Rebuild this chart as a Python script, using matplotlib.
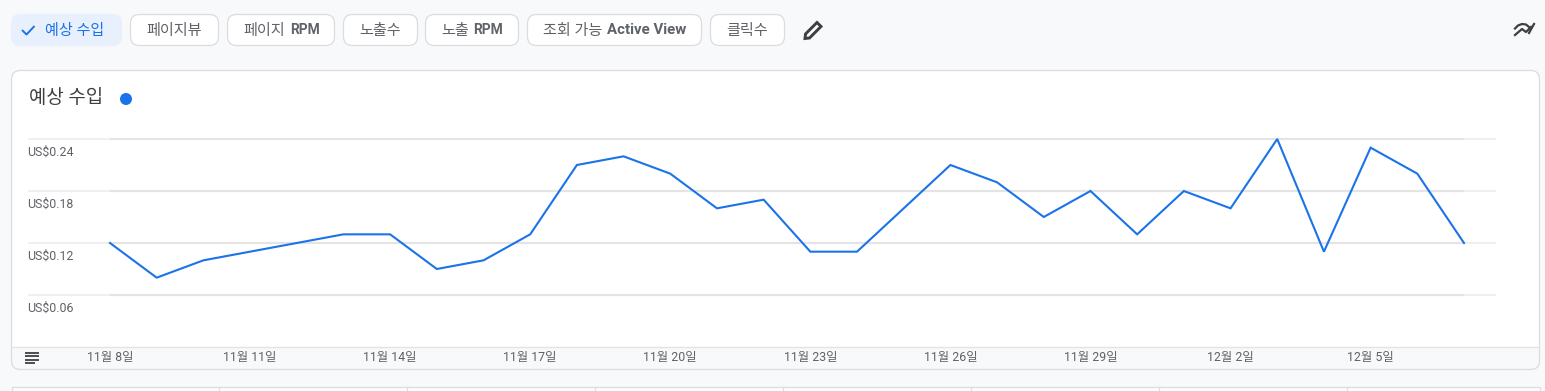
import matplotlib
matplotlib.use("Agg")
import matplotlib.pyplot as plt
import matplotlib.patches as patches

plt.rcParams['font.family'] = ['Roboto', 'Noto Sans CJK KR', 'DejaVu Sans']

# data
revenue = [0.12, 0.08, 0.10, 0.11, 0.12, 0.13, 0.13, 0.09, 0.10, 0.13,
           0.21, 0.22, 0.20, 0.16, 0.17, 0.11, 0.11, 0.16, 0.21, 0.19,
           0.15, 0.18, 0.13, 0.18, 0.16, 0.24, 0.11, 0.23, 0.20, 0.12]
date_ticks = [0, 3, 6, 9, 12, 15, 18, 21, 24, 27]
date_labels = ['11월 8일', '11월 11일', '11월 14일', '11월 17일', '11월 20일',
               '11월 23일', '11월 26일', '11월 29일', '12월 2일', '12월 5일']
y_ticks = [0.24, 0.18, 0.12, 0.06]
y_labels = ['US$0.24', 'US$0.18', 'US$0.12', 'US$0.06']
chip_names = [['예상 수입'], ['페이지뷰'], ['페이지', 'RPM'], ['노출수'], ['노출', 'RPM'],
              ['조회 가능', 'Active View'], ['클릭수']]

W, H = 1545, 391
BG = '#f8f9fa'
BORDER = '#dadce0'
BLUE = '#1a73e8'
GREY = '#5f6368'

fig = plt.figure(figsize=(W / 100, H / 100), dpi=100, facecolor=BG)

# page furniture is drawn in pixel coordinates
ui = fig.add_axes([0, 0, 1, 1])
ui.set_xlim(0, W)
ui.set_ylim(H, 0)
ui.axis('off')

# chips
chip_edges = [(11, 122), (130, 219), (227, 335), (343, 418), (425, 519), (527, 702), (710, 785)]
chip_text_x = [(45, None), (146, None), (243, 290), (359, None), (441, 473), (543, 607), (726, None)]
for i, (x0, x1) in enumerate(chip_edges):
    active = i == 0
    ui.add_patch(patches.FancyBboxPatch((x0 + 0.5, 14.5), x1 - x0 - 1, 31,
                                        boxstyle="round,pad=0,rounding_size=9",
                                        facecolor='#e8f0fe' if active else 'white',
                                        edgecolor='#e8f0fe' if active else BORDER, linewidth=0.9))
    col = BLUE if active else GREY
    ui.text(chip_text_x[i][0], 30.5, chip_names[i][0], ha='left', va='center', fontsize=10.9, color=col)
    if len(chip_names[i]) > 1:
        size = 10.8 if chip_names[i][1] == 'Active View' else 10
        ui.text(chip_text_x[i][1], 30.5, chip_names[i][1], ha='left', va='center', fontsize=size,
                color=GREY, fontweight='bold')

# check mark in first chip
ui.plot([22, 26.5, 34.5], [30, 34.5, 26], color=BLUE, lw=1.4, solid_capstyle='butt')

# pencil icon
ui.add_patch(patches.Polygon([(805.5, 34), (817, 22.5), (821, 26.5), (809.5, 38), (805, 38.5)],
                             closed=True, facecolor='white', edgecolor='#3c4043', linewidth=2.1))

# trend icon
ic = '#3c4043'
ui.plot([1515, 1522, 1526, 1531], [35, 29, 32, 27], color=ic, lw=1.6)
ui.plot([1515, 1518, 1522, 1526, 1529], [28.5, 25.5, 24, 24.5, 27], color=ic, lw=1.6)
ui.plot([1529, 1534], [33, 24], color=ic, lw=1.6)

# card
card = patches.FancyBboxPatch((11.5, 70.5), 1528, 299, boxstyle="round,pad=0,rounding_size=9",
                              facecolor='white', edgecolor='none')
ui.add_patch(card)
strip = patches.Rectangle((11, 347), 1530, 24, facecolor=BG, edgecolor='none')
ui.add_patch(strip)
strip.set_clip_path(card)
ui.plot([12, 1539], [346.8, 346.8], color='#e3e4e6', lw=1.0)
ui.add_patch(patches.FancyBboxPatch((11.5, 70.5), 1528, 299, boxstyle="round,pad=0,rounding_size=9",
                                    facecolor='none', edgecolor=BORDER, linewidth=0.9))

# card header
ui.text(29, 98, '예상 수입', ha='left', va='center', fontsize=13.6, color='#3c4043')
ui.add_patch(patches.Circle((126, 99), 6, facecolor=BLUE, edgecolor='none'))

# list icon on the strip
for y, x1 in [(352.5, 39), (356, 39), (359.5, 39), (362.5, 35)]:
    ui.plot([25, x1], [y, y], color='#3c4043', lw=1.3, solid_capstyle='butt')

# table underneath, cut by the image edge
ui.add_patch(patches.Rectangle((11.5, 386.5), 1528, 10, facecolor='white', edgecolor=BORDER, linewidth=0.9))
for x in [219, 407, 595, 783, 971, 1159, 1347]:
    ui.plot([x, x], [387, 391], color=BORDER, lw=0.9)

# chart, placed so day 0 is at x=110px, day 29 at x=1464px and 0 sits on the strip
day_px = (1464 - 110) / 29
ax = fig.add_axes([28 / W, (H - 347) / H, (1496 - 28) / W, (347 - 125) / H])
ax.patch.set_visible(False)
ax.set_xlim((28 - 110) / day_px, 29 + (1496 - 1464) / day_px)
ax.set_ylim(0, 0.06 * (347 - 125) / 52)
for s in ax.spines.values():
    s.set_visible(False)

days = list(range(len(revenue)))
ax.hlines(y_ticks, ax.get_xlim()[0], ax.get_xlim()[1], color='#f0f0f0', lw=1.5, zorder=1)
ax.hlines(y_ticks, days[0], days[-1], color='#e4e4e4', lw=1.5, zorder=2)
ax.plot(days, revenue, color=BLUE, lw=1.5, zorder=3, solid_joinstyle='miter')

ax.set_yticks([])
ax.set_xticks(date_ticks, labels=date_labels)
ax.tick_params(axis='x', length=0, pad=3.2, labelsize=8.9, labelcolor=GREY)
for v, lab in zip(y_ticks, y_labels):
    ax.annotate(lab, (0, v), xycoords=('axes fraction', 'data'), xytext=(-0.5, -9.8),
                textcoords='offset points', ha='left', va='center', fontsize=8.9, color=GREY)

fig.savefig('out.png', dpi=100, facecolor=BG)
